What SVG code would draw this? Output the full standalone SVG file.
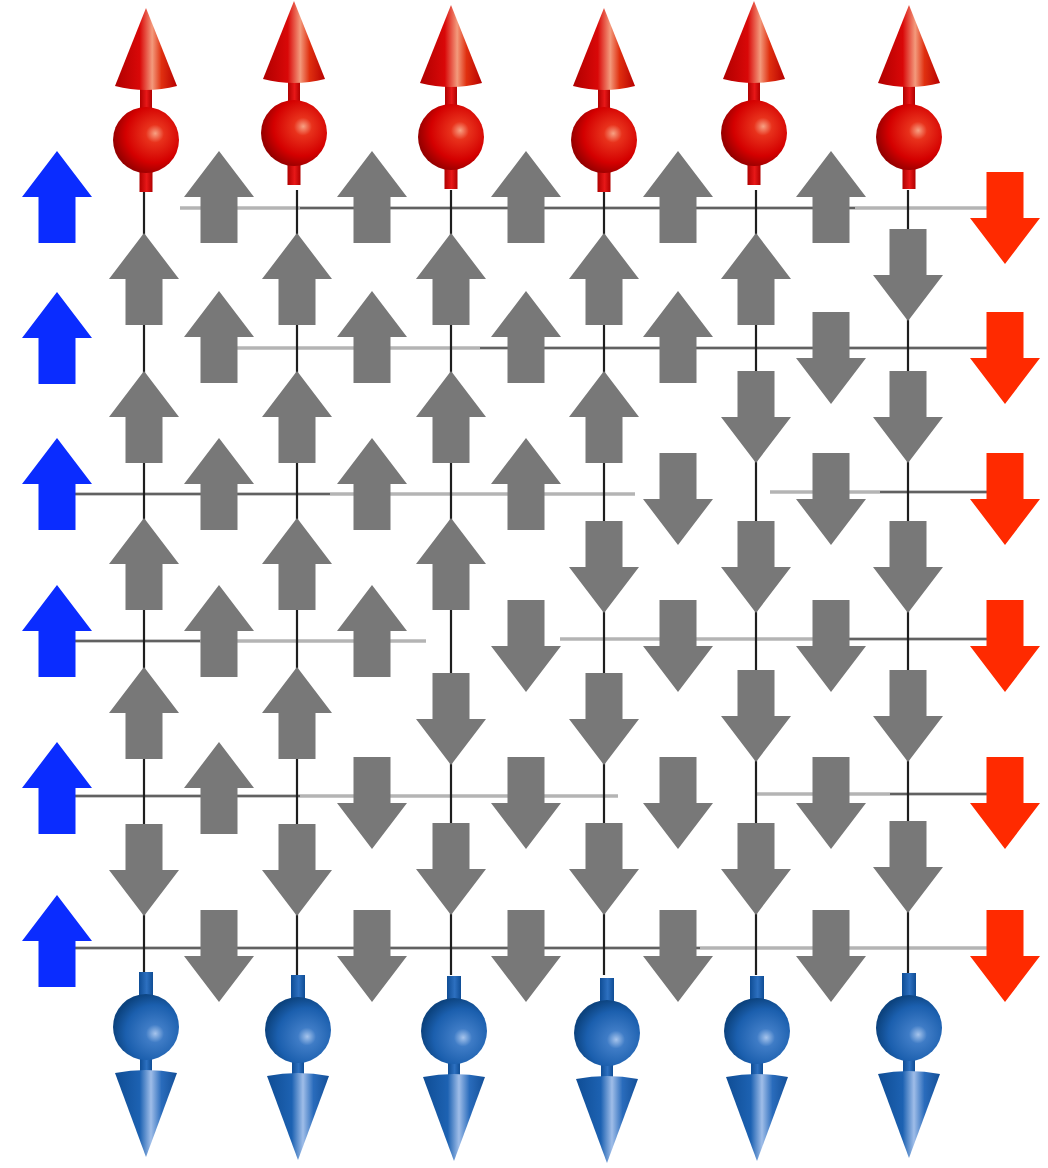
<svg xmlns="http://www.w3.org/2000/svg" xmlns:xlink="http://www.w3.org/1999/xlink" width="1048" height="1168" viewBox="0 0 1048 1168">
  <defs>
    <style>
      .bond-soft { stroke: #b4b4b4; stroke-width: 3.5; fill: none; }
      .bond-dark { stroke: #2a2a2a; stroke-width: 1.6; fill: none; opacity: 0.8; }
      .col { stroke: #1e1e1e; stroke-width: 2.2; fill: none; }
      .gray { fill: #787878; }
      .blue { fill: #0a2cff; }
      .red { fill: #ff2a00; }
    </style>
    <!-- block arrows centred on their bounding box -->
    <path id="au" d="M0,-46 L35,0 L18.5,0 L18.5,46 L-18.5,46 L-18.5,0 L-35,0 Z"/>
    <path id="ad" d="M0,46 L35,0 L18.5,0 L18.5,-46 L-18.5,-46 L-18.5,0 L-35,0 Z"/>

    <!-- shading for the 3D spins -->
    <radialGradient id="redBall" cx="0.62" cy="0.42" r="0.62" fx="0.64" fy="0.4">
      <stop offset="0" stop-color="#f7a183"/>
      <stop offset="0.22" stop-color="#e8321c"/>
      <stop offset="0.7" stop-color="#d40000"/>
      <stop offset="1" stop-color="#960000"/>
    </radialGradient>
    <linearGradient id="redCone" x1="0" y1="0" x2="1" y2="0">
      <stop offset="0" stop-color="#b00000"/>
      <stop offset="0.4" stop-color="#d90808"/>
      <stop offset="0.6" stop-color="#f39a7c"/>
      <stop offset="0.75" stop-color="#e03010"/>
      <stop offset="1" stop-color="#b80000"/>
    </linearGradient>
    <linearGradient id="redRod" x1="0" y1="0" x2="1" y2="0">
      <stop offset="0" stop-color="#b00000"/>
      <stop offset="0.55" stop-color="#e81818"/>
      <stop offset="1" stop-color="#b00000"/>
    </linearGradient>
    <radialGradient id="blueBall" cx="0.62" cy="0.6" r="0.62" fx="0.64" fy="0.6">
      <stop offset="0" stop-color="#a6c4ec"/>
      <stop offset="0.22" stop-color="#3f7cc6"/>
      <stop offset="0.7" stop-color="#1b5fae"/>
      <stop offset="1" stop-color="#0c437f"/>
    </radialGradient>
    <linearGradient id="blueCone" x1="0" y1="0" x2="1" y2="0">
      <stop offset="0" stop-color="#0f4d95"/>
      <stop offset="0.4" stop-color="#1d62b2"/>
      <stop offset="0.58" stop-color="#9fbde8"/>
      <stop offset="0.75" stop-color="#2a6cbc"/>
      <stop offset="1" stop-color="#134f98"/>
    </linearGradient>
    <linearGradient id="blueRod" x1="0" y1="0" x2="1" y2="0">
      <stop offset="0" stop-color="#0f4d95"/>
      <stop offset="0.55" stop-color="#2d70c0"/>
      <stop offset="1" stop-color="#0f4d95"/>
    </linearGradient>

    <!-- red spin pointing up, origin at ball centre -->
    <g id="spinUp">
      <rect x="-6.5" y="28" width="13" height="24" fill="url(#redRod)"/>
      <rect x="-6" y="-56" width="12" height="26" fill="url(#redRod)"/>
      <circle r="33" fill="url(#redBall)"/>
      <path d="M0,-132 L-31,-54 Q0,-46 31,-54 Z" fill="url(#redCone)"/>
    </g>
    <!-- blue spin pointing down, origin at ball centre -->
    <g id="spinDown">
      <rect x="-7" y="-55" width="14" height="26" fill="url(#blueRod)"/>
      <rect x="-6" y="28" width="12" height="22" fill="url(#blueRod)"/>
      <circle r="33" fill="url(#blueBall)"/>
      <path d="M0,130 L-31,46 Q0,40 31,46 Z" fill="url(#blueCone)"/>
    </g>
  </defs>

  <rect width="1048" height="1168" fill="#ffffff"/>

  <!-- lattice bonds -->
  <g id="bonds">
    <g id="rows">
      <line class="bond-soft" x1="180" y1="208" x2="990" y2="208"/>
      <line class="bond-dark" x1="300" y1="208" x2="855" y2="208"/>

      <line class="bond-soft" x1="234" y1="348" x2="990" y2="348"/>
      <line class="bond-dark" x1="480" y1="348" x2="990" y2="348"/>

      <line class="bond-soft" x1="75" y1="494" x2="635" y2="494"/>
      <line class="bond-dark" x1="75" y1="494" x2="330" y2="494"/>
      <line class="bond-soft" x1="770" y1="492" x2="990" y2="492"/>
      <line class="bond-dark" x1="880" y1="492" x2="990" y2="492"/>

      <line class="bond-soft" x1="75" y1="641" x2="426" y2="641"/>
      <line class="bond-dark" x1="75" y1="641" x2="200" y2="641"/>
      <line class="bond-soft" x1="560" y1="639" x2="990" y2="639"/>
      <line class="bond-dark" x1="840" y1="639" x2="990" y2="639"/>

      <line class="bond-soft" x1="75" y1="796" x2="618" y2="796"/>
      <line class="bond-dark" x1="75" y1="796" x2="300" y2="796"/>
      <line class="bond-soft" x1="755" y1="794" x2="990" y2="794"/>
      <line class="bond-dark" x1="890" y1="794" x2="990" y2="794"/>

      <line class="bond-soft" x1="75" y1="948" x2="990" y2="948"/>
      <line class="bond-dark" x1="75" y1="948" x2="700" y2="948"/>
    </g>
    <g id="columns">
      <line class="col" x1="144" y1="190" x2="144" y2="236" stroke="#8a8a8a"/>
      <line class="col" x1="144" y1="236" x2="144" y2="975"/>
      <line class="col" x1="297" y1="190" x2="297" y2="975"/>
      <line class="col" x1="451" y1="190" x2="451" y2="975"/>
      <line class="col" x1="604" y1="190" x2="604" y2="975"/>
      <line class="col" x1="756" y1="190" x2="756" y2="975"/>
      <line class="col" x1="908" y1="190" x2="908" y2="975"/>
    </g>
  </g>

  <!-- boundary arrows: left column up, right column down -->
  <g id="left-boundary" class="blue">
    <use href="#au" x="57" y="197"/>
    <use href="#au" x="57" y="338"/>
    <use href="#au" x="57" y="484"/>
    <use href="#au" x="57" y="631"/>
    <use href="#au" x="57" y="788"/>
    <use href="#au" x="57" y="941"/>
  </g>
  <g id="right-boundary" class="red">
    <use href="#ad" x="1005" y="218"/>
    <use href="#ad" x="1005" y="358"/>
    <use href="#ad" x="1005" y="499"/>
    <use href="#ad" x="1005" y="646"/>
    <use href="#ad" x="1005" y="803"/>
    <use href="#ad" x="1005" y="956"/>
  </g>

  <!-- arrows sitting on the horizontal bonds -->
  <g id="row-arrows" class="gray">
    <use href="#au" x="219" y="197"/>
    <use href="#au" x="372" y="197"/>
    <use href="#au" x="526" y="197"/>
    <use href="#au" x="678" y="197"/>
    <use href="#au" x="831" y="197"/>

    <use href="#au" x="219" y="337"/>
    <use href="#au" x="372" y="337"/>
    <use href="#au" x="526" y="337"/>
    <use href="#au" x="678" y="337"/>
    <use href="#ad" x="831" y="358"/>

    <use href="#au" x="219" y="484"/>
    <use href="#au" x="372" y="484"/>
    <use href="#au" x="526" y="484"/>
    <use href="#ad" x="678" y="499"/>
    <use href="#ad" x="831" y="499"/>

    <use href="#au" x="219" y="631"/>
    <use href="#au" x="372" y="631"/>
    <use href="#ad" x="526" y="646"/>
    <use href="#ad" x="678" y="646"/>
    <use href="#ad" x="831" y="646"/>

    <use href="#au" x="219" y="788"/>
    <use href="#ad" x="372" y="803"/>
    <use href="#ad" x="526" y="803"/>
    <use href="#ad" x="678" y="803"/>
    <use href="#ad" x="831" y="803"/>

    <use href="#ad" x="219" y="956"/>
    <use href="#ad" x="372" y="956"/>
    <use href="#ad" x="526" y="956"/>
    <use href="#ad" x="678" y="956"/>
    <use href="#ad" x="831" y="956"/>
  </g>

  <!-- arrows sitting on the vertical bonds -->
  <g id="column-arrows" class="gray">
    <use href="#au" x="144" y="279"/>
    <use href="#au" x="297" y="279"/>
    <use href="#au" x="451" y="279"/>
    <use href="#au" x="604" y="279"/>
    <use href="#au" x="756" y="279"/>
    <use href="#ad" x="908" y="275"/>

    <use href="#au" x="144" y="417"/>
    <use href="#au" x="297" y="417"/>
    <use href="#au" x="451" y="417"/>
    <use href="#au" x="604" y="417"/>
    <use href="#ad" x="756" y="417"/>
    <use href="#ad" x="908" y="417"/>

    <use href="#au" x="144" y="564"/>
    <use href="#au" x="297" y="564"/>
    <use href="#au" x="451" y="564"/>
    <use href="#ad" x="604" y="567"/>
    <use href="#ad" x="756" y="567"/>
    <use href="#ad" x="908" y="567"/>

    <use href="#au" x="144" y="713"/>
    <use href="#au" x="297" y="713"/>
    <use href="#ad" x="451" y="719"/>
    <use href="#ad" x="604" y="719"/>
    <use href="#ad" x="756" y="716"/>
    <use href="#ad" x="908" y="716"/>

    <use href="#ad" x="144" y="870"/>
    <use href="#ad" x="297" y="870"/>
    <use href="#ad" x="451" y="869"/>
    <use href="#ad" x="604" y="869"/>
    <use href="#ad" x="756" y="869"/>
    <use href="#ad" x="908" y="867"/>
  </g>

  <!-- 3D spins on the top edge -->
  <g id="top-spins">
    <use href="#spinUp" transform="translate(146,140)"/>
    <use href="#spinUp" transform="translate(294,133)"/>
    <use href="#spinUp" transform="translate(451,137)"/>
    <use href="#spinUp" transform="translate(604,140)"/>
    <use href="#spinUp" transform="translate(754,133)"/>
    <use href="#spinUp" transform="translate(909,137)"/>
  </g>

  <!-- 3D spins on the bottom edge -->
  <g id="bottom-spins">
    <use href="#spinDown" transform="translate(146,1027)"/>
    <use href="#spinDown" transform="translate(298,1030)"/>
    <use href="#spinDown" transform="translate(454,1031)"/>
    <use href="#spinDown" transform="translate(607,1033)"/>
    <use href="#spinDown" transform="translate(757,1031)"/>
    <use href="#spinDown" transform="translate(909,1028)"/>
  </g>
</svg>
